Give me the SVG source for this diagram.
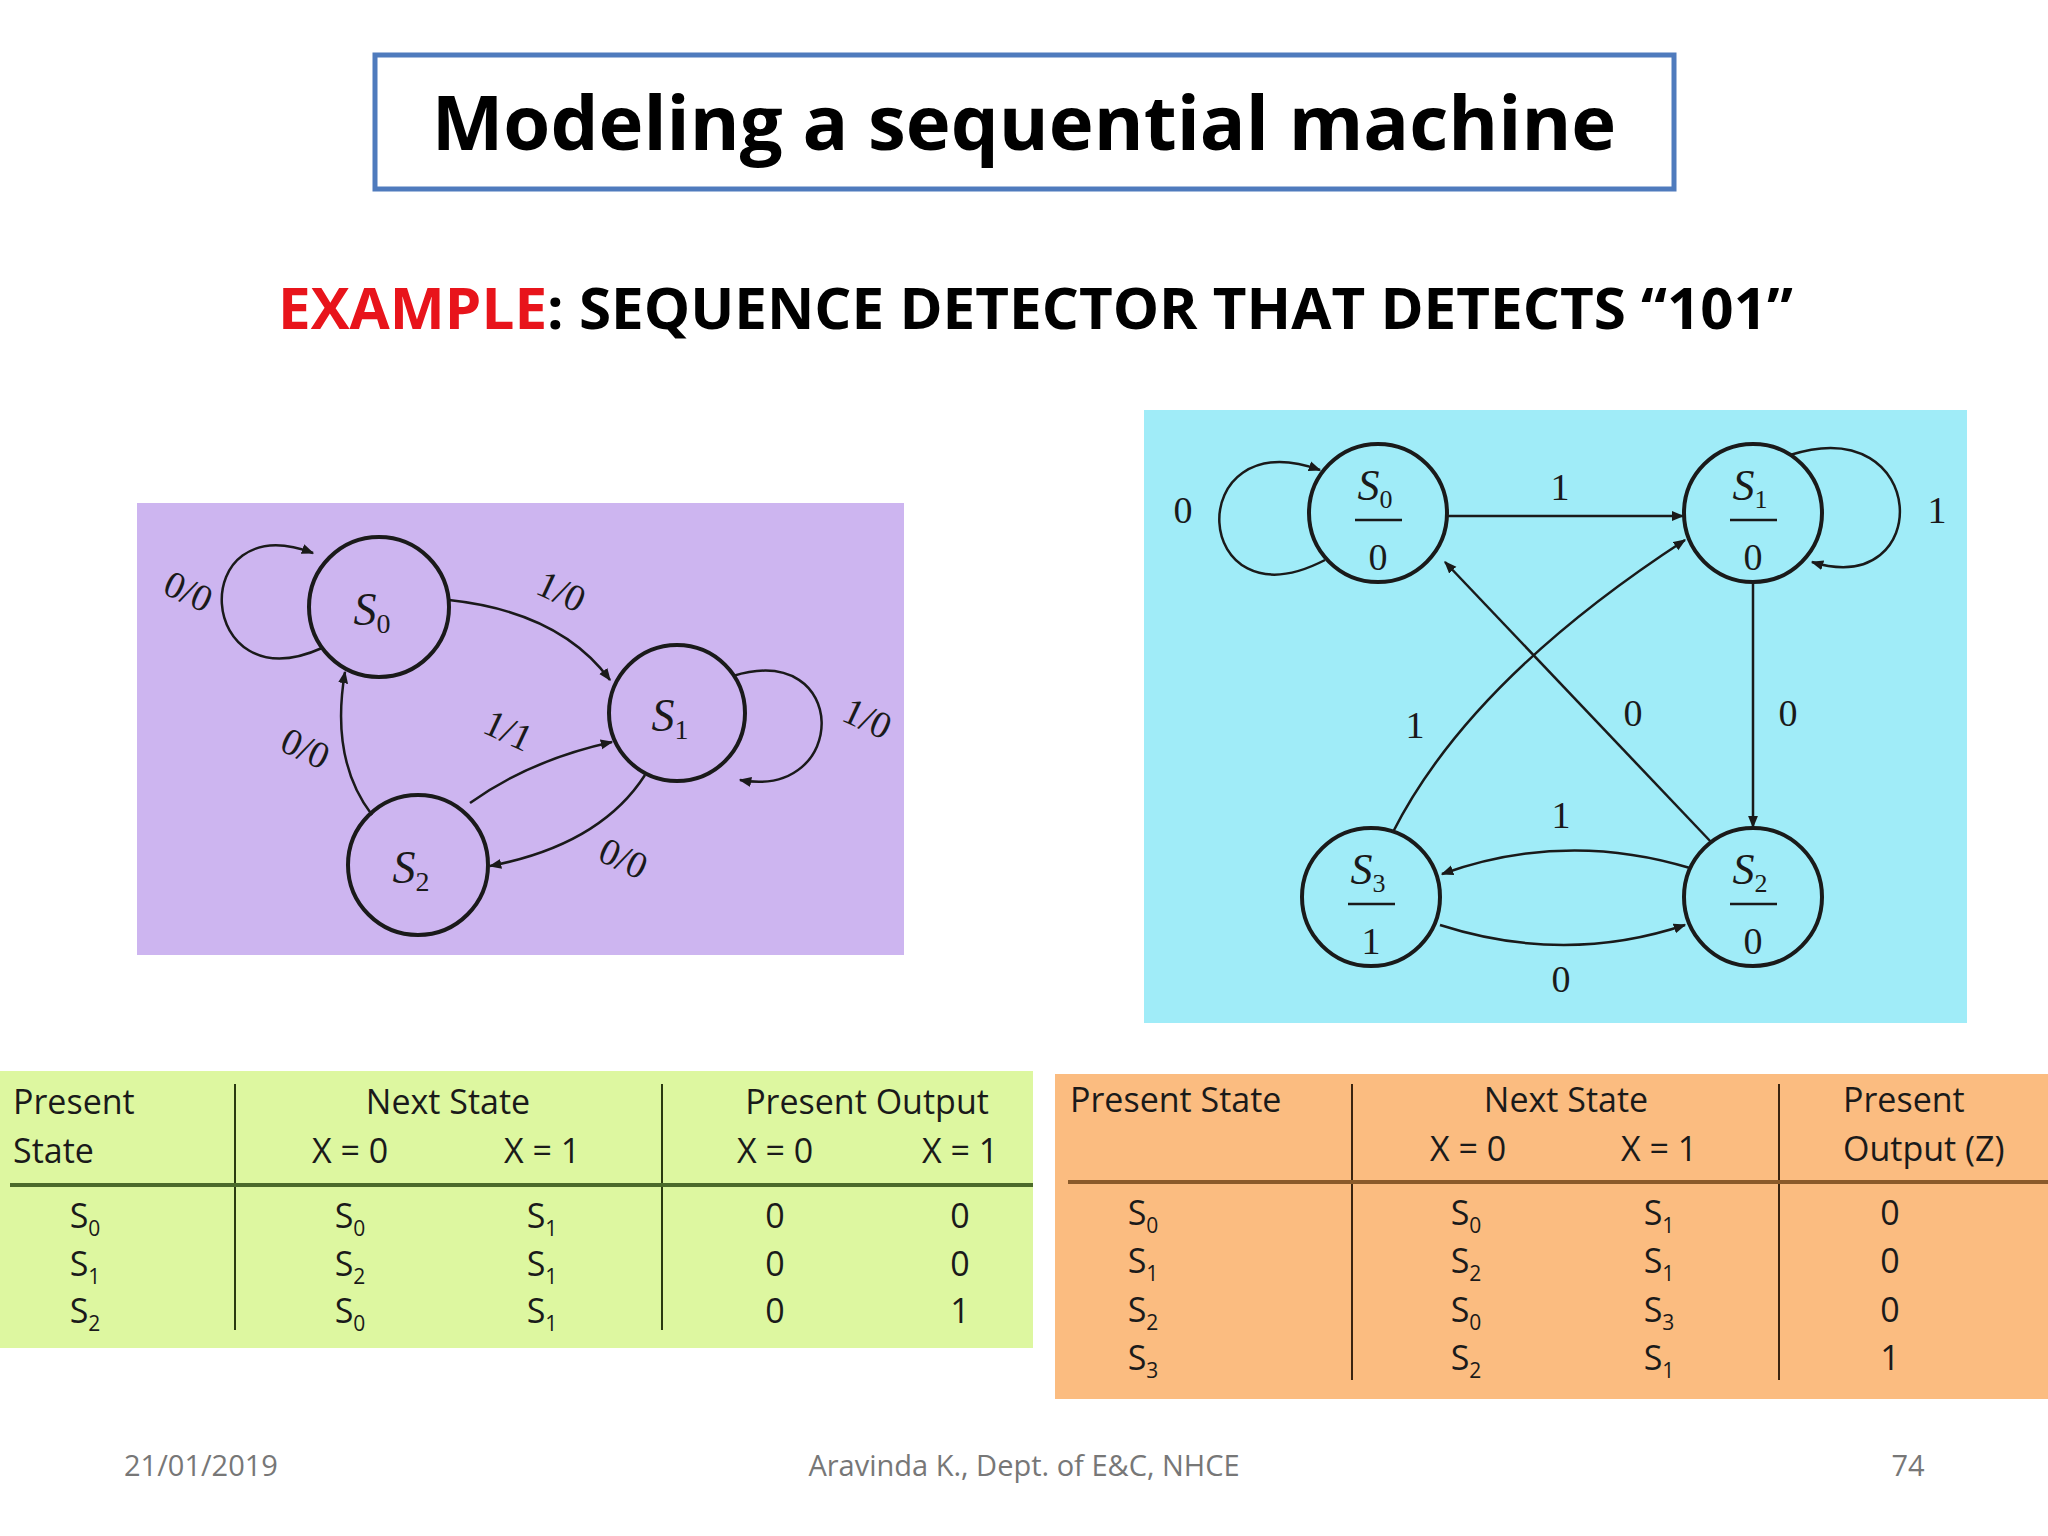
<svg xmlns="http://www.w3.org/2000/svg" width="2048" height="1536" viewBox="0 0 2048 1536">
<style>
.st{fill:none;stroke:#1a1a1a;stroke-width:4}
.e{fill:none;stroke:#1a1a1a;stroke-width:2.5}
.sl{font-family:"Liberation Serif",serif;font-style:italic;fill:#1a1a1a}
.lb{font-family:"Liberation Serif",serif;fill:#1a1a1a;font-size:38px}
.tb{font-family:"Open Sans","DejaVu Sans",sans-serif;fill:#1a1a1a;font-size:34px}
.ft{font-family:"Open Sans","Liberation Sans",sans-serif;fill:#777;font-size:29px}
</style>
<defs>
<marker id="a" viewBox="0 0 10 10" refX="9" refY="5" markerWidth="5" markerHeight="5" orient="auto"><path d="M0,1 L10,5 L0,9 z" fill="#1a1a1a"/></marker>
</defs>
<rect width="2048" height="1536" fill="#fff"/>
<g id="title">
<rect x="375" y="55" width="1299" height="134" fill="#fff" stroke="#4f7bbd" stroke-width="5"/>
<text x="1024" y="150" text-anchor="middle" font-family="Open Sans,Liberation Sans,sans-serif" font-weight="bold" font-size="76" fill="#000">Modeling a sequential machine</text>
</g>
<text x="278" y="329" font-family="Open Sans,Liberation Sans,sans-serif" font-weight="bold" font-size="58" textLength="1515" lengthAdjust="spacingAndGlyphs" fill="#000"><tspan fill="#e8141b">EXAMPLE</tspan>: SEQUENCE DETECTOR THAT DETECTS “101”</text>

<rect x="137" y="503" width="767" height="452" fill="#cdb5f0"/>
<rect x="1144" y="410" width="823" height="613" fill="#a0ecf8"/>

<g id="left-edges">
<path class="e" d="M322,648 C195,705 185,505 313,553" marker-end="url(#a)"/>
<path class="e" d="M449,600 Q560,612 610,680" marker-end="url(#a)"/>
<path class="e" d="M733,676 C850,640 850,800 740,780" marker-end="url(#a)"/>
<path class="e" d="M470,803 Q530,760 612,742" marker-end="url(#a)"/>
<path class="e" d="M645,775 Q600,845 490,866" marker-end="url(#a)"/>
<path class="e" d="M372,815 Q330,760 345,672" marker-end="url(#a)"/>
<g class="lb" font-size="30">
<text transform="translate(183,603) rotate(25)" text-anchor="middle">0/0</text>
<text transform="translate(556,603) rotate(25)" text-anchor="middle">1/0</text>
<text transform="translate(503,742) rotate(25)" text-anchor="middle">1/1</text>
<text transform="translate(300,760) rotate(25)" text-anchor="middle">0/0</text>
<text transform="translate(862,730) rotate(25)" text-anchor="middle">1/0</text>
<text transform="translate(618,870) rotate(25)" text-anchor="middle">0/0</text>
</g>
</g>
<g id="L-S0"><circle class="st" cx="379" cy="607" r="70"/><text class="sl" x="372" y="625" font-size="46" text-anchor="middle">S<tspan font-size="28" dy="8" font-style="normal">0</tspan></text></g>
<g id="L-S1"><circle class="st" cx="677" cy="713" r="68"/><text class="sl" x="670" y="731" font-size="46" text-anchor="middle">S<tspan font-size="28" dy="8" font-style="normal">1</tspan></text></g>
<g id="L-S2"><circle class="st" cx="418" cy="865" r="70"/><text class="sl" x="411" y="883" font-size="46" text-anchor="middle">S<tspan font-size="28" dy="8" font-style="normal">2</tspan></text></g>

<g id="right-edges">
<path class="e" d="M1325,560 C1190,630 1180,420 1320,470" marker-end="url(#a)"/>
<path class="e" d="M1448,516 L1683,516" marker-end="url(#a)"/>
<path class="e" d="M1790,455 C1930,410 1935,600 1812,562" marker-end="url(#a)"/>
<path class="e" d="M1753,583 L1753,827" marker-end="url(#a)"/>
<path class="e" d="M1393,832 Q1470,680 1685,540" marker-end="url(#a)"/>
<path class="e" d="M1712,843 L1445,562" marker-end="url(#a)"/>
<path class="e" d="M1690,868 Q1565,830 1442,874" marker-end="url(#a)"/>
<path class="e" d="M1440,925 Q1565,965 1685,925" marker-end="url(#a)"/>
<g class="lb" text-anchor="middle">
<text x="1183" y="523">0</text><text x="1560" y="500">1</text><text x="1937" y="523">1</text>
<text x="1788" y="726">0</text><text x="1415" y="738">1</text><text x="1633" y="726">0</text>
<text x="1561" y="828">1</text><text x="1561" y="992">0</text>
</g>
</g>
<g id="R-S0"><circle class="st" cx="1378" cy="513" r="69"/><text class="sl" x="1375" y="500" font-size="44" text-anchor="middle">S<tspan font-size="26" dy="8" font-style="normal">0</tspan></text><line class="e" x1="1355" y1="520" x2="1402" y2="520"/><text class="lb" x="1378" y="570" text-anchor="middle">0</text></g>
<g id="R-S1"><circle class="st" cx="1753" cy="513" r="69"/><text class="sl" x="1750" y="500" font-size="44" text-anchor="middle">S<tspan font-size="26" dy="8" font-style="normal">1</tspan></text><line class="e" x1="1730" y1="520" x2="1777" y2="520"/><text class="lb" x="1753" y="570" text-anchor="middle">0</text></g>
<g id="R-S3"><circle class="st" cx="1371" cy="897" r="69"/><text class="sl" x="1368" y="884" font-size="44" text-anchor="middle">S<tspan font-size="26" dy="8" font-style="normal">3</tspan></text><line class="e" x1="1348" y1="904" x2="1395" y2="904"/><text class="lb" x="1371" y="954" text-anchor="middle">1</text></g>
<g id="R-S2"><circle class="st" cx="1753" cy="897" r="69"/><text class="sl" x="1750" y="884" font-size="44" text-anchor="middle">S<tspan font-size="26" dy="8" font-style="normal">2</tspan></text><line class="e" x1="1730" y1="904" x2="1777" y2="904"/><text class="lb" x="1753" y="954" text-anchor="middle">0</text></g>

<g id="table-green">
<rect x="0" y="1071" width="1033" height="277" fill="#ddf7a0"/>
<line x1="235" y1="1084" x2="235" y2="1330" stroke="#2a3a10" stroke-width="2"/>
<line x1="662" y1="1084" x2="662" y2="1330" stroke="#2a3a10" stroke-width="2"/>
<line x1="10" y1="1185" x2="1033" y2="1185" stroke="#4b6a2a" stroke-width="4"/>
<g class="tb">
<text x="13" y="1114">Present</text><text x="13" y="1163">State</text>
<text x="448" y="1114" text-anchor="middle">Next State</text>
<text x="350" y="1163" text-anchor="middle">X = 0</text><text x="542" y="1163" text-anchor="middle">X = 1</text>
<text x="867" y="1114" text-anchor="middle">Present Output</text>
<text x="775" y="1163" text-anchor="middle">X = 0</text><text x="960" y="1163" text-anchor="middle">X = 1</text>
<g text-anchor="middle">
<text x="85" y="1228">S<tspan font-size="21" dy="8">0</tspan></text><text x="85" y="1276">S<tspan font-size="21" dy="8">1</tspan></text><text x="85" y="1323">S<tspan font-size="21" dy="8">2</tspan></text>
<text x="350" y="1228">S<tspan font-size="21" dy="8">0</tspan></text><text x="350" y="1276">S<tspan font-size="21" dy="8">2</tspan></text><text x="350" y="1323">S<tspan font-size="21" dy="8">0</tspan></text>
<text x="542" y="1228">S<tspan font-size="21" dy="8">1</tspan></text><text x="542" y="1276">S<tspan font-size="21" dy="8">1</tspan></text><text x="542" y="1323">S<tspan font-size="21" dy="8">1</tspan></text>
<text x="775" y="1228">0</text><text x="775" y="1276">0</text><text x="775" y="1323">0</text>
<text x="960" y="1228">0</text><text x="960" y="1276">0</text><text x="960" y="1323">1</text>
</g></g>
</g>

<g id="table-orange">
<rect x="1055" y="1074" width="993" height="325" fill="#fbbc80"/>
<line x1="1352" y1="1084" x2="1352" y2="1380" stroke="#3a2410" stroke-width="2"/>
<line x1="1779" y1="1084" x2="1779" y2="1380" stroke="#3a2410" stroke-width="2"/>
<line x1="1068" y1="1182" x2="2048" y2="1182" stroke="#8a5a2a" stroke-width="4"/>
<g class="tb">
<text x="1070" y="1112">Present State</text>
<text x="1566" y="1112" text-anchor="middle">Next State</text>
<text x="1468" y="1161" text-anchor="middle">X = 0</text><text x="1659" y="1161" text-anchor="middle">X = 1</text>
<text x="1843" y="1112">Present</text><text x="1843" y="1161">Output (Z)</text>
<g text-anchor="middle">
<text x="1143" y="1225">S<tspan font-size="21" dy="8">0</tspan></text><text x="1143" y="1273">S<tspan font-size="21" dy="8">1</tspan></text><text x="1143" y="1322">S<tspan font-size="21" dy="8">2</tspan></text><text x="1143" y="1370">S<tspan font-size="21" dy="8">3</tspan></text>
<text x="1466" y="1225">S<tspan font-size="21" dy="8">0</tspan></text><text x="1466" y="1273">S<tspan font-size="21" dy="8">2</tspan></text><text x="1466" y="1322">S<tspan font-size="21" dy="8">0</tspan></text><text x="1466" y="1370">S<tspan font-size="21" dy="8">2</tspan></text>
<text x="1659" y="1225">S<tspan font-size="21" dy="8">1</tspan></text><text x="1659" y="1273">S<tspan font-size="21" dy="8">1</tspan></text><text x="1659" y="1322">S<tspan font-size="21" dy="8">3</tspan></text><text x="1659" y="1370">S<tspan font-size="21" dy="8">1</tspan></text>
<text x="1890" y="1225">0</text><text x="1890" y="1273">0</text><text x="1890" y="1322">0</text><text x="1890" y="1370">1</text>
</g></g>
</g>

<g id="footer">
<text class="ft" x="124" y="1476">21/01/2019</text>
<text class="ft" x="1024" y="1476" text-anchor="middle">Aravinda K., Dept. of E&amp;C, NHCE</text>
<text class="ft" x="1908" y="1476" text-anchor="middle">74</text>
</g>
</svg>
